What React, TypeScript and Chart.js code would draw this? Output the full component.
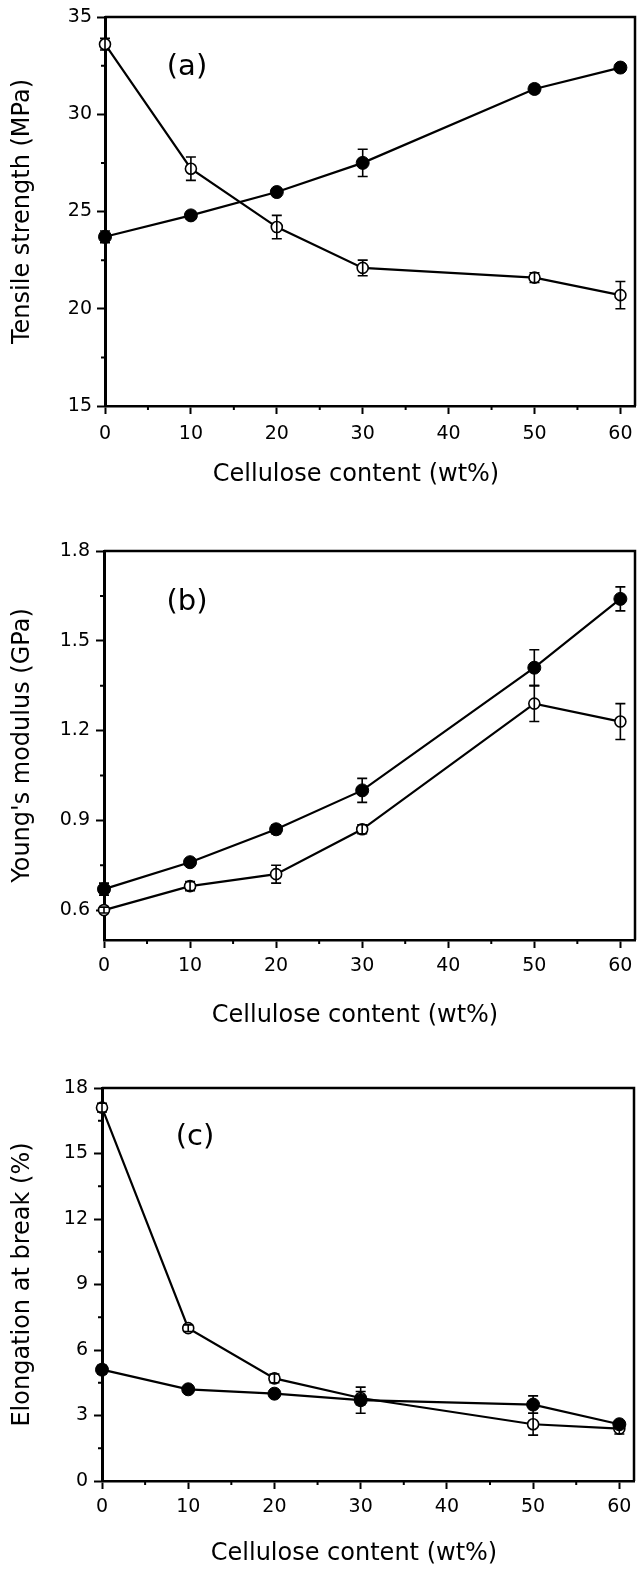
import React, { useEffect, useRef } from 'react';
import { Chart, registerables } from 'chart.js';

Chart.register(...registerables);

// ---------- data ----------
const cellulose = [0, 10, 20, 30, 50, 60];

const tensileFilled = [23.7, 24.8, 26.0, 27.5, 31.3, 32.4];
const tensileFilledErr = [0.3, 0.2, 0.15, 0.7, 0.2, 0.15];
const tensileOpen = [33.6, 27.2, 24.2, 22.1, 21.6, 20.7];
const tensileOpenErr = [0.3, 0.6, 0.6, 0.4, 0.25, 0.7];

const modulusFilled = [0.67, 0.76, 0.87, 1.0, 1.41, 1.64];
const modulusFilledErr = [0.02, 0.01, 0.015, 0.04, 0.06, 0.04];
const modulusOpen = [0.6, 0.68, 0.72, 0.87, 1.29, 1.23];
const modulusOpenErr = [0.01, 0.015, 0.03, 0.015, 0.06, 0.06];

const elongFilled = [5.1, 4.2, 4.0, 3.7, 3.5, 2.6];
const elongFilledErr = [0.2, 0.1, 0.1, 0.6, 0.4, 0.15];
const elongOpen = [17.1, 7.0, 4.7, 3.8, 2.6, 2.4];
const elongOpenErr = [0.2, 0.15, 0.2, 0.3, 0.5, 0.25];

// ---------- ticks ----------
const xTicks = [0, 10, 20, 30, 40, 50, 60];
const xMinorTicks = [5, 15, 25, 35, 45, 55];
const tensileTicks = [15, 20, 25, 30, 35];
const tensileMinor = [17.5, 22.5, 27.5, 32.5];
const modulusTicks = [0.6, 0.9, 1.2, 1.5, 1.8];
const modulusMinor = [0.75, 1.05, 1.35, 1.65];
const elongTicks = [0, 3, 6, 9, 12, 15, 18];
const elongMinor = [1.5, 4.5, 7.5, 10.5, 13.5, 16.5];

const xTitle = 'Cellulose content (wt%)';

const FONT = '"DejaVu Sans", sans-serif';

type PanelSpec = {
  label: string;
  yTitle: string;
  yMin: number;
  yMax: number;
  yTicks: number[];
  yMinor: number[];
  decimals: number;
  filled: number[];
  filledErr: number[];
  open: number[];
  openErr: number[];
  // layout / style
  top: number;
  height: number;
  padTop: number;
  padRight: number;
  yWidth: number;
  xHeight: number;
  xTickPad: number;
  yTickPad: number;
  labelX: number;
  labelY: number;
  xTitleX: number;
  xTitleBaseline: number;
};

const panels: PanelSpec[] = [
  {
    label: '(a)', yTitle: 'Tensile strength (MPa)', yMin: 15, yMax: 35,
    yTicks: tensileTicks, yMinor: tensileMinor, decimals: 0,
    filled: tensileFilled, filledErr: tensileFilledErr, open: tensileOpen, openErr: tensileOpenErr,
    top: 0, height: 500, padTop: 17, padRight: 2, yWidth: 105, xHeight: 94,
    xTickPad: 9, yTickPad: 5, labelX: 187, labelY: 67, xTitleX: 356, xTitleBaseline: 481,
  },
  {
    label: '(b)', yTitle: "Young's modulus (GPa)", yMin: 0.5, yMax: 1.8,
    yTicks: modulusTicks, yMinor: modulusMinor, decimals: 1,
    filled: modulusFilled, filledErr: modulusFilledErr, open: modulusOpen, openErr: modulusOpenErr,
    top: 520, height: 520, padTop: 31, padRight: 2, yWidth: 104, xHeight: 100,
    xTickPad: 7, yTickPad: 6, labelX: 187, labelY: 82, xTitleX: 355, xTitleBaseline: 502,
  },
  {
    label: '(c)', yTitle: 'Elongation at break (%)', yMin: 0, yMax: 18,
    yTicks: elongTicks, yMinor: elongMinor, decimals: 0,
    filled: elongFilled, filledErr: elongFilledErr, open: elongOpen, openErr: elongOpenErr,
    top: 1040, height: 529, padTop: 48, padRight: 3, yWidth: 102, xHeight: 88,
    xTickPad: 7, yTickPad: 6, labelX: 195, labelY: 97, xTitleX: 354, xTitleBaseline: 520,
  },
];

const X_MAX = 61.7;

function makeConfig(p: PanelSpec): any {
  const errorBars = {
    id: 'errorBars',
    afterDatasetsDraw(chart: any) {
      const { ctx } = chart;
      const xs = chart.scales.x;
      const ys = chart.scales.y;
      ctx.save();
      ctx.strokeStyle = '#000';
      ctx.lineWidth = 1.6;
      chart.data.datasets.forEach((ds: any) => {
        ds.data.forEach((pt: any, i: number) => {
          const e = ds.errors[i];
          if (!e) return;
          const px = xs.getPixelForValue(pt.x);
          const y1 = ys.getPixelForValue(pt.y + e);
          const y2 = ys.getPixelForValue(pt.y - e);
          ctx.beginPath();
          ctx.moveTo(px, y1);
          ctx.lineTo(px, y2);
          ctx.moveTo(px - 5, y1);
          ctx.lineTo(px + 5, y1);
          ctx.moveTo(px - 5, y2);
          ctx.lineTo(px + 5, y2);
          ctx.stroke();
        });
      });
      ctx.restore();
    },
  };

  const decor = {
    id: 'decor',
    afterDraw(chart: any) {
      const { ctx, chartArea } = chart;
      const xs = chart.scales.x;
      const ys = chart.scales.y;
      ctx.save();
      ctx.strokeStyle = '#000';
      // frame top and right
      ctx.lineWidth = 2.5;
      ctx.beginPath();
      ctx.moveTo(chartArea.left, chartArea.top);
      ctx.lineTo(chartArea.right, chartArea.top);
      ctx.lineTo(chartArea.right, chartArea.bottom);
      ctx.stroke();
      // minor ticks
      ctx.lineWidth = 2;
      ctx.beginPath();
      xMinorTicks.forEach((v) => {
        const px = xs.getPixelForValue(v);
        ctx.moveTo(px, chartArea.bottom);
        ctx.lineTo(px, chartArea.bottom + 4);
      });
      p.yMinor.forEach((v) => {
        const py = ys.getPixelForValue(v);
        ctx.moveTo(chartArea.left - 4, py);
        ctx.lineTo(chartArea.left, py);
      });
      ctx.stroke();
      // panel label
      ctx.fillStyle = '#000';
      ctx.font = `29px ${FONT}`;
      ctx.textAlign = 'center';
      ctx.textBaseline = 'middle';
      ctx.fillText(p.label, p.labelX, p.labelY);
      // x axis title
      ctx.font = `24px ${FONT}`;
      ctx.textBaseline = 'alphabetic';
      ctx.fillText(xTitle, p.xTitleX, p.xTitleBaseline);
      ctx.restore();
    },
  };

  return {
    type: 'line',
    data: {
      datasets: [
        {
          data: cellulose.map((x, i) => ({ x, y: p.filled[i] })),
          errors: p.filledErr,
          borderColor: '#000',
          borderWidth: 2.2,
          pointRadius: 6.5,
          pointBackgroundColor: '#000',
          pointBorderColor: '#000',
          pointBorderWidth: 1,
          tension: 0,
          clip: false,
        },
        {
          data: cellulose.map((x, i) => ({ x, y: p.open[i] })),
          errors: p.openErr,
          borderColor: '#000',
          borderWidth: 2.2,
          pointRadius: 5.5,
          pointBackgroundColor: '#fff',
          pointBorderColor: '#000',
          pointBorderWidth: 1.6,
          tension: 0,
          clip: false,
        },
      ],
    },
    options: {
      responsive: false,
      animation: false,
      events: [],
      layout: {
        autoPadding: false,
        padding: { top: p.padTop, right: p.padRight, left: 0, bottom: 0 },
      },
      plugins: {
        legend: { display: false },
        tooltip: { enabled: false },
      },
      scales: {
        x: {
          type: 'linear',
          min: 0,
          max: X_MAX,
          afterBuildTicks: (s: any) => {
            s.ticks = xTicks.map((v) => ({ value: v }));
          },
          afterFit: (s: any) => {
            s.height = p.xHeight;
            s.paddingLeft = 0;
            s.paddingRight = 0;
          },
          ticks: {
            autoSkip: false,
            maxRotation: 0,
            padding: p.xTickPad,
            color: '#000',
            font: { family: FONT, size: 19 },
            callback: (v: any) => String(v),
          },
          grid: {
            drawOnChartArea: false,
            drawTicks: true,
            tickLength: 8,
            tickWidth: 2,
            tickColor: '#000',
          },
          border: { display: true, color: '#000', width: 2.5 },
          title: { display: false },
        },
        y: {
          type: 'linear',
          min: p.yMin,
          max: p.yMax,
          afterBuildTicks: (s: any) => {
            s.ticks = p.yTicks.map((v) => ({ value: v }));
          },
          afterFit: (s: any) => {
            s.width = p.yWidth;
            s.paddingTop = 0;
            s.paddingBottom = 0;
          },
          ticks: {
            autoSkip: false,
            padding: p.yTickPad,
            color: '#000',
            font: { family: FONT, size: 19 },
            callback: (v: any) => Number(v).toFixed(p.decimals),
          },
          grid: {
            drawOnChartArea: false,
            drawTicks: true,
            tickLength: 8,
            tickWidth: 2,
            tickColor: '#000',
          },
          border: { display: true, color: '#000', width: 3 },
          title: {
            display: true,
            text: p.yTitle,
            color: '#000',
            font: { family: FONT, size: 24 },
            padding: { top: 8, bottom: 0 },
          },
        },
      },
    },
    plugins: [errorBars, decor],
  };
}

function Panel({ spec }: { spec: PanelSpec }) {
  const ref = useRef<HTMLCanvasElement>(null);
  useEffect(() => {
    if (!ref.current) return;
    const chart = new Chart(ref.current, makeConfig(spec));
    return () => chart.destroy();
  }, [spec]);
  return (
    <canvas
      ref={ref}
      width={637}
      height={spec.height}
      style={{ position: 'absolute', left: 0, top: spec.top, width: 637, height: spec.height, display: 'block' }}
    />
  );
}

export default function App() {
  return (
    <div style={{ position: 'absolute', left: 0, top: 0, width: 637, height: 1569, background: '#fff', overflow: 'hidden' }}>
      {panels.map((p) => (
        <Panel key={p.label} spec={p} />
      ))}
    </div>
  );
}
